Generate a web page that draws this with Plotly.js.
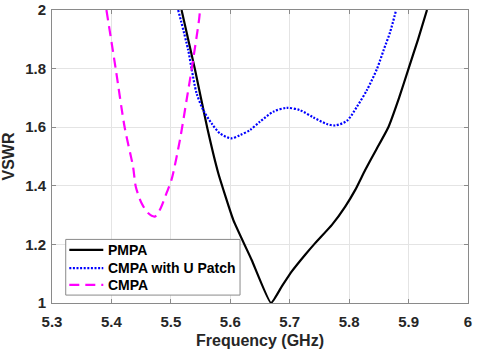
<!DOCTYPE html>
<html>
<head>
<meta charset="utf-8">
<script src="https://cdn.plot.ly/plotly-3.0.1.min.js"></script>
<style>
html,body{margin:0;padding:0;background:#fff;}
#chart{width:480px;height:351px;}
</style>
</head>
<body>
<div id="chart"></div>
<script>
// PMPA (black solid)
const pmpaFreq = [5.518, 5.5405, 5.5612, 5.5798, 5.605, 5.636, 5.6686, 5.6867, 5.7035, 5.726, 5.7428, 5.771, 5.7934, 5.8103, 5.827, 5.846, 5.866, 5.884, 5.900, 5.916, 5.931];
const pmpaVswr = [2.0, 1.798, 1.598, 1.443, 1.284, 1.147, 1.0, 1.0566, 1.1076, 1.1645, 1.2043, 1.2667, 1.329, 1.386, 1.454, 1.525, 1.6, 1.70, 1.8, 1.90, 2.0];

// CMPA with U Patch (blue dotted)
const uFreq = [5.5123, 5.5292, 5.535, 5.5434, 5.5546, 5.5686, 5.5826, 5.6012, 5.6164, 5.633, 5.650, 5.6725, 5.695, 5.7175, 5.740, 5.7626, 5.7766, 5.7963, 5.8131, 5.830, 5.847, 5.858, 5.869, 5.879];
const uVswr = [2.0, 1.863, 1.798, 1.715, 1.658, 1.613, 1.579, 1.562, 1.573, 1.590, 1.619, 1.653, 1.666, 1.658, 1.633, 1.611, 1.606, 1.622, 1.670, 1.727, 1.80, 1.863, 1.925, 2.0];

// CMPA (magenta dashed)
const cFreq = [5.3916, 5.4073, 5.4224, 5.4364, 5.441, 5.4506, 5.4617, 5.473, 5.4815, 5.4927, 5.501, 5.5152, 5.5264, 5.535, 5.5477, 5.549];
const cVswr = [2.0, 1.798, 1.598, 1.465, 1.397, 1.341, 1.307, 1.295, 1.318, 1.375, 1.42, 1.556, 1.692, 1.798, 1.971, 2.0];

const xTickVals = [5.3, 5.4, 5.5, 5.6, 5.7, 5.8, 5.9, 6.0];
const xTickText = ['5.3', '5.4', '5.5', '5.6', '5.7', '5.8', '5.9', '6'];
const yTickVals = [1, 1.2, 1.4, 1.6, 1.8, 2];
const yTickText = ['1', '1.2', '1.4', '1.6', '1.8', '2'];

const seriesNames = ['PMPA', 'CMPA with U Patch', 'CMPA'];
const seriesColors = ['#000000', '#0000ff', '#ff00ff'];
const seriesDash = ['solid', '2px,1.6px', '10px,6px'];

const FONT = 'Liberation Sans, Arial, sans-serif';
const TXT = '#262626';
const AXC = '#8a8a8a';

const traceData = [[pmpaFreq, pmpaVswr, 0.4], [uFreq, uVswr, 0.8], [cFreq, cVswr, 0.8]];
const traces = traceData.map((d, i) => ({
  x: d[0], y: d[1], name: seriesNames[i], mode: 'lines', showlegend: false,
  line: {color: seriesColors[i], width: 2.2, dash: seriesDash[i], shape: 'spline', smoothing: d[2]}
}));

// Legend box (MATLAB-style), built from shapes and real-text annotations
const lgX0 = 0.033, lgX1 = 0.452, lgY0 = 0.027, lgY1 = 0.217;
const lgRowY = [0.181, 0.119, 0.062];
const shapes = [{
  type: 'rect', xref: 'paper', yref: 'paper', x0: lgX0, x1: lgX1, y0: lgY0, y1: lgY1,
  fillcolor: '#ffffff', line: {color: AXC, width: 1}, layer: 'above'
}];
const annotations = [];
seriesNames.forEach((n, i) => {
  shapes.push({type: 'line', xref: 'paper', yref: 'paper', x0: 0.0416, x1: 0.1233,
    y0: lgRowY[i], y1: lgRowY[i], layer: 'above',
    line: {color: seriesColors[i], width: 2.2, dash: seriesDash[i]}});
  annotations.push({xref: 'paper', yref: 'paper', x: 0.130, y: lgRowY[i], xanchor: 'left', yanchor: 'middle',
    text: n, showarrow: false, font: {family: FONT, size: 14, color: '#000000', weight: 'bold'}});
});

const axisCommon = {
  showline: true, linecolor: AXC, linewidth: 1, mirror: 'ticks',
  ticks: 'inside', ticklen: 4, tickwidth: 1, tickcolor: AXC,
  showgrid: true, gridcolor: '#e4e4e4', gridwidth: 1, zeroline: false,
  tickfont: {family: FONT, size: 15, color: TXT, weight: 'bold'}
};

const layout = {
  width: 480, height: 351,
  margin: {l: 52, r: 12, t: 10, b: 48},
  paper_bgcolor: '#ffffff', plot_bgcolor: '#ffffff',
  showlegend: false,
  shapes: shapes, annotations: annotations,
  xaxis: Object.assign({}, axisCommon, {
    range: [5.3, 6.0], tickmode: 'array', tickvals: xTickVals, ticktext: xTickText,
    ticklabelstandoff: 5,
    title: {text: 'Frequency (GHz)', font: {family: FONT, size: 16, color: TXT, weight: 'bold'}, standoff: 5}
  }),
  yaxis: Object.assign({}, axisCommon, {
    range: [1, 2], tickmode: 'array', tickvals: yTickVals, ticktext: yTickText,
    ticklabelstandoff: 2,
    title: {text: 'VSWR', font: {family: FONT, size: 16, color: TXT, weight: 'bold'}, standoff: 8}
  })
};

Plotly.newPlot('chart', traces, layout, {displayModeBar: false, staticPlot: true});
</script>
</body>
</html>
